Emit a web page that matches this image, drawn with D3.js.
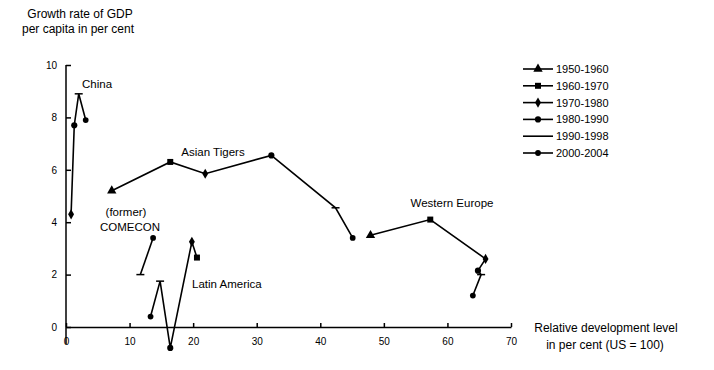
<!DOCTYPE html>
<html>
<head>
<meta charset="utf-8">
<script src="https://cdn.jsdelivr.net/npm/d3@7"></script>
<style>
  body { margin: 0; background: #fff; }
  svg { display: block; font-family: "Liberation Sans", Arial, sans-serif; }
  .axis text { font-size: 10px; fill: #000; }
  .axis line, .axis path { stroke: #000; stroke-width: 1.5; }
</style>
</head>
<body>
<svg id="chart" width="714" height="370"></svg>
<script>
// Periods (legend)
const periods = ["1950-1960", "1960-1970", "1970-1980", "1980-1990", "1990-1998", "2000-2004"];

// Ticks
const xTicks = [0, 10, 20, 30, 40, 50, 60, 70];
const yTicks = [0, 2, 4, 6, 8, 10];

// Regions: relative development level (US = 100), growth rate, period
const chinaLevel = [0.8, 1.3, 2.0, 3.1];
const chinaGrowth = [4.3, 7.7, 8.9, 7.9];
const chinaPeriods = ["1970-1980", "1980-1990", "1990-1998", "2000-2004"];

const tigersLevel = [7.2, 16.4, 21.9, 32.3, 42.4, 45.1];
const tigersGrowth = [5.2, 6.3, 5.85, 6.55, 4.55, 3.4];
const tigersPeriods = ["1950-1960", "1960-1970", "1970-1980", "1980-1990", "1990-1998", "2000-2004"];

const europeLevel = [47.9, 57.3, 66.0, 64.8, 65.3, 64.0];
const europeGrowth = [3.5, 4.1, 2.6, 2.15, 2.0, 1.2];
const europePeriods = ["1950-1960", "1960-1970", "1970-1980", "1980-1990", "1990-1998", "2000-2004"];

const comeconLevel = [11.7, 13.7];
const comeconGrowth = [2.0, 3.4];
const comeconPeriods = ["1990-1998", "2000-2004"];

const latinLevel = [20.6, 19.8, 16.4, 14.8, 13.3];
const latinGrowth = [2.65, 3.25, -0.8, 1.75, 0.4];
const latinPeriods = ["1960-1970", "1970-1980", "1980-1990", "1990-1998", "2000-2004"];

const svg = d3.select("#chart");

const x = d3.scaleLinear().domain([0, 70]).range([66, 511]);
const y = d3.scaleLinear().domain([0, 10]).range([327, 65]);

// marker shape per period
const symbolFor = {
  "1950-1960": d3.symbol().type(d3.symbolTriangle).size(38),
  "1960-1970": d3.symbol().type(d3.symbolSquare).size(36),
  "1970-1980": d3.symbol().type(d3.symbolDiamond).size(30),
  "1980-1990": d3.symbol().type(d3.symbolCircle).size(30),
  "1990-1998": null,
  "2000-2004": d3.symbol().type(d3.symbolCircle).size(26)
};

function drawMarker(g, period, cx, cy) {
  const sym = symbolFor[period];
  if (sym) {
    g.append("path")
      .attr("d", sym())
      .attr("transform", `translate(${cx},${cy})`)
      .attr("fill", "#000");
  } else {
    g.append("line")
      .attr("x1", cx - 4).attr("x2", cx + 4)
      .attr("y1", cy).attr("y2", cy)
      .attr("stroke", "#000").attr("stroke-width", 1.5);
  }
}

// ---- axes ----
const yAxis = d3.axisLeft(y).tickValues(yTicks).tickSizeInner(-5).tickSizeOuter(0).tickPadding(9);
const yg = svg.append("g").attr("class", "axis").attr("transform", `translate(${x(0)},0)`).call(yAxis);
yg.select(".domain").remove();
yg.append("line").attr("x1", 0).attr("x2", 0).attr("y1", y(10)).attr("y2", y(-0.65));

const xAxis = d3.axisBottom(x).tickValues(xTicks).tickSizeInner(-4).tickSizeOuter(0).tickPadding(11);
svg.append("g").attr("class", "axis").attr("transform", `translate(0,${y(0)})`).call(xAxis);

// ---- series ----
const regions = [
  { level: chinaLevel, growth: chinaGrowth, periods: chinaPeriods },
  { level: tigersLevel, growth: tigersGrowth, periods: tigersPeriods },
  { level: europeLevel, growth: europeGrowth, periods: europePeriods },
  { level: comeconLevel, growth: comeconGrowth, periods: comeconPeriods },
  { level: latinLevel, growth: latinGrowth, periods: latinPeriods }
];

const line = d3.line().x(d => x(d[0])).y(d => y(d[1]));
const plot = svg.append("g");

regions.forEach(r => {
  const pts = r.level.map((v, i) => [v, r.growth[i]]);
  plot.append("path")
    .attr("d", line(pts))
    .attr("fill", "none")
    .attr("stroke", "#000")
    .attr("stroke-width", 1.6);
  pts.forEach((p, i) => drawMarker(plot, r.periods[i], x(p[0]), y(p[1])));
});

// ---- region labels ----
const labels = svg.append("g").attr("font-size", 11.5).attr("fill", "#000");
labels.append("text").attr("x", 82).attr("y", 88).text("China");
labels.append("text").attr("x", 213).attr("y", 156).attr("text-anchor", "middle").text("Asian Tigers");
labels.append("text").attr("x", 126).attr("y", 216).attr("text-anchor", "middle").text("(former)");
labels.append("text").attr("x", 130).attr("y", 231).attr("text-anchor", "middle").text("COMECON");
labels.append("text").attr("x", 192).attr("y", 288).text("Latin America");
labels.append("text").attr("x", 452).attr("y", 207).attr("text-anchor", "middle").text("Western Europe");

// ---- axis titles ----
const titles = svg.append("g").attr("font-size", 12).attr("fill", "#000").attr("text-anchor", "middle");
titles.append("text").attr("x", 80).attr("y", 18).text("Growth rate of GDP");
titles.append("text").attr("x", 78).attr("y", 33).text("per capita in per cent");
titles.append("text").attr("x", 606).attr("y", 332).text("Relative development level");
titles.append("text").attr("x", 605).attr("y", 349).text("in per cent (US = 100)");

// ---- legend ----
const legend = svg.append("g").attr("transform", "translate(523,69)");
periods.forEach((p, i) => {
  const row = legend.append("g").attr("transform", `translate(0,${i * 16.8})`);
  row.append("line")
    .attr("x1", 0).attr("x2", 30).attr("y1", 0).attr("y2", 0)
    .attr("stroke", "#000").attr("stroke-width", 1.6);
  if (symbolFor[p]) drawMarker(row, p, 15, 0);
  row.append("text")
    .attr("x", 33).attr("y", 4)
    .attr("font-size", 11)
    .text(p);
});
</script>
</body>
</html>
